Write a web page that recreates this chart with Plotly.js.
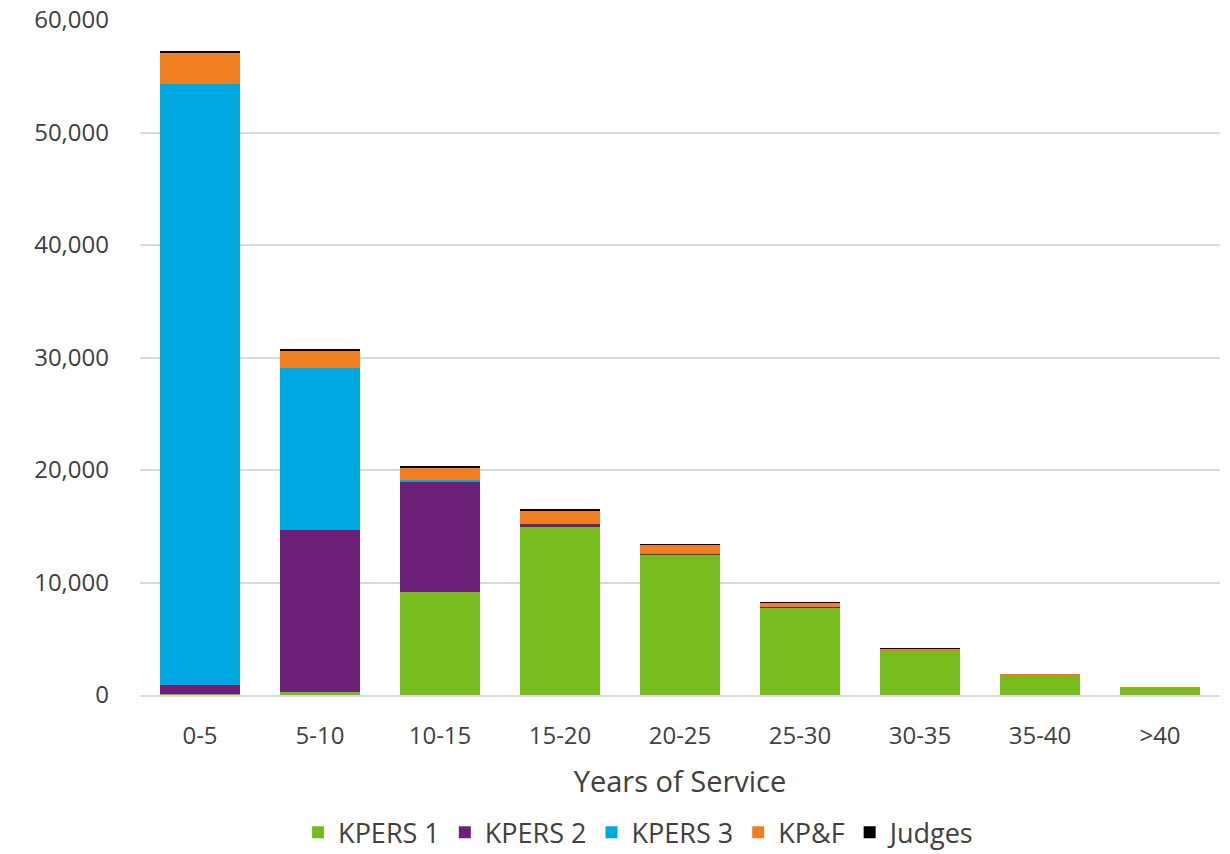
<!DOCTYPE html>
<html>
<head>
<meta charset="utf-8">
<script src="https://cdn.plot.ly/plotly-3.0.1.min.js"></script>
<style>
  html, body { margin: 0; padding: 0; background: #ffffff; }
  #chart { width: 1230px; height: 854px; }
</style>
</head>
<body>
<div id="chart"></div>
<script>
// Active members by years of service, stacked by plan
const categories = ["0-5", "5-10", "10-15", "15-20", "20-25", "25-30", "30-35", "35-40", ">40"];
const kpers1 = [50, 300, 9160, 14900, 12510, 7800, 3940, 1770, 700];
const kpers2 = [880, 14370, 9800, 320, 50, 10, 5, 0, 0];
const kpers3 = [53400, 14400, 180, 20, 0, 0, 0, 0, 0];
const kpf    = [2750, 1560, 1060, 1190, 840, 430, 170, 10, 5];
const judges = [110, 100, 80, 15, 10, 5, 5, 0, 0];

const seriesNames  = ["KPERS 1", "KPERS 2", "KPERS 3", "KP&F", "Judges"];
const seriesValues = [kpers1, kpers2, kpers3, kpf, judges];
const seriesColors = ["#77bc1f", "#6d2077", "#00a8e1", "#f07f22", "#000000"];

const textColor = "#404040";
const fontFamily = "'Open Sans', 'Noto Sans', sans-serif";

const traces = seriesNames.map((name, i) => ({
  type: "bar",
  name: name,
  x: categories,
  y: seriesValues[i],
  marker: { color: seriesColors[i], line: { width: 0 } },
  hoverinfo: "x+y+name"
}));

const layout = {
  width: 1230,
  height: 854,
  barmode: "stack",
  bargap: 0.333,
  paper_bgcolor: "#ffffff",
  plot_bgcolor: "#ffffff",
  margin: { l: 140, r: 10, t: 20, b: 159, autoexpand: false },
  font: { family: fontFamily, color: textColor, size: 24 },
  xaxis: {
    type: "category",
    showgrid: false,
    showline: true,
    linecolor: "#d9d9d9",
    linewidth: 2,
    ticks: "",
    tickfont: { size: 24, color: textColor },
    ticklabelstandoff: 18,
    title: { text: "Years of Service", font: { size: 29, color: textColor }, standoff: 22 }
  },
  yaxis: {
    range: [0, 60000],
    tickvals: [0, 10000, 20000, 30000, 40000, 50000, 60000],
    ticktext: ["0", "10,000", "20,000", "30,000", "40,000", "50,000", "60,000"],
    showgrid: true,
    gridcolor: "#d9d9d9",
    gridwidth: 1.5,
    zeroline: false,
    showline: false,
    ticks: "",
    tickfont: { size: 24, color: textColor },
    ticklabelstandoff: 30
  },
  legend: {
    orientation: "h",
    x: 0.52,
    xref: "container",
    xanchor: "center",
    y: 0.025,
    yref: "container",
    yanchor: "middle",
    font: { size: 27, color: textColor },
    traceorder: "normal",
    itemclick: false
  },
  showlegend: true
};

Plotly.newPlot("chart", traces, layout, { displayModeBar: false });
</script>
</body>
</html>
